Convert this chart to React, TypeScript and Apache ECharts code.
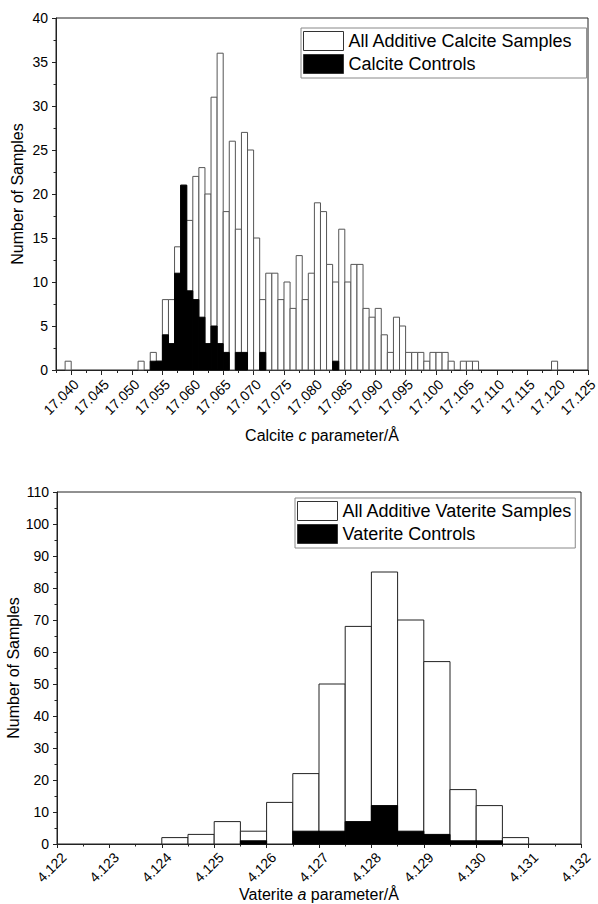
import React, { useEffect, useRef } from "react";
import * as echarts from "echarts";

// ---------- Data ----------
// Calcite c parameter histogram: bin left edges (Å), bin width 0.001 Å
const calciteBinWidth = 0.001;
const calciteBinStart = [
  17.039, 17.051, 17.053, 17.054, 17.055, 17.056, 17.057, 17.058, 17.059, 17.06,
  17.061, 17.062, 17.063, 17.064, 17.065, 17.066, 17.067, 17.068, 17.069, 17.07,
  17.071, 17.072, 17.073, 17.074, 17.075, 17.076, 17.077, 17.078, 17.079, 17.08,
  17.081, 17.082, 17.083, 17.084, 17.085, 17.086, 17.087, 17.088, 17.089, 17.09,
  17.091, 17.092, 17.093, 17.094, 17.095, 17.096, 17.097, 17.098, 17.099, 17.1,
  17.101, 17.102, 17.104, 17.105, 17.106, 17.119,
];
const calciteAllCounts = [
  1, 1, 2, 1, 8, 8, 14, 21, 17, 22,
  23, 20, 31, 36, 18, 26, 16, 27, 25, 15,
  8, 11, 11, 8, 10, 7, 13, 8, 11, 19,
  18, 12, 10, 16, 10, 12, 12, 7, 6, 7,
  4, 2, 6, 5, 2, 2, 2, 1, 2, 2,
  2, 1, 1, 1, 1, 1,
];
const calciteControlCounts = [
  0, 0, 1, 1, 4, 3, 11, 21, 9, 8,
  6, 3, 5, 3, 2, 0, 2, 2, 0, 0,
  2, 0, 0, 0, 0, 0, 0, 0, 0, 0,
  0, 0, 1, 0, 0, 0, 0, 0, 0, 0,
  0, 0, 0, 0, 0, 0, 0, 0, 0, 0,
  0, 0, 0, 0, 0, 0,
];
const calciteMajorTicks = [
  17.04, 17.045, 17.05, 17.055, 17.06, 17.065, 17.07, 17.075, 17.08,
  17.085, 17.09, 17.095, 17.1, 17.105, 17.11, 17.115, 17.12, 17.125,
];

// Vaterite a parameter histogram: bin left edges (Å), bin width 0.0005 Å
const vateriteBinWidth = 0.0005;
const vateriteBinStart = [
  4.124, 4.1245, 4.125, 4.1255, 4.126, 4.1265, 4.127, 4.1275, 4.128, 4.1285,
  4.129, 4.1295, 4.13, 4.1305,
];
const vateriteAllCounts = [2, 3, 7, 4, 13, 22, 50, 68, 85, 70, 57, 17, 12, 2];
const vateriteControlCounts = [0, 0, 0, 1, 0, 4, 4, 7, 12, 4, 3, 1, 1, 0];

const calciteNames = ["All Additive Calcite Samples", "Calcite Controls"];
const vateriteNames = ["All Additive Vaterite Samples", "Vaterite Controls"];

// ---------- Styling ----------
const FONT = '"Liberation Sans", Arial, Helvetica, sans-serif';
const AXIS_COLOR = "#222";
const TEXT_COLOR = "#000";

function histSeries(
  name: string,
  starts: number[],
  counts: number[],
  width: number,
  axisIndex: number,
  fill: string,
  stroke: string,
  z: number
) {
  const data = starts
    .map((s, i) => [s, s + width, counts[i]])
    .filter((d) => d[2] > 0);
  return {
    type: "custom",
    name,
    xAxisIndex: axisIndex === 0 ? 0 : 2,
    yAxisIndex: axisIndex,
    data,
    z,
    silent: true,
    encode: { x: [0, 1], y: 2 },
    itemStyle: { color: fill },
    renderItem: (params: any, api: any) => {
      const x0 = api.value(0);
      const x1 = api.value(1);
      const y = api.value(2);
      const p0 = api.coord([x0, y]);
      const p1 = api.coord([x1, 0]);
      return {
        type: "rect",
        shape: {
          x: p0[0],
          y: p0[1],
          width: p1[0] - p0[0],
          height: p1[1] - p0[1],
        },
        style: { fill, stroke, lineWidth: 1 },
      };
    },
  };
}

function legendFor(names: string[], left: number, top: number, padRight: number) {
  return {
    show: true,
    orient: "vertical",
    left,
    top,
    padding: [3, padRight, 4, 2],
    itemGap: 3,
    itemWidth: 40,
    itemHeight: 19,
    borderColor: "#888",
    borderWidth: 1,
    selectedMode: false,
    textStyle: { fontSize: 18, fontFamily: FONT, color: TEXT_COLOR, lineHeight: 19 },
    data: [
      {
        name: names[0],
        icon: "rect",
        itemStyle: { color: "#fff", borderColor: "#333", borderWidth: 1 },
      },
      {
        name: names[1],
        icon: "rect",
        itemStyle: { color: "#000", borderColor: "#333", borderWidth: 1 },
      },
    ],
  };
}

const axisLine = { show: true, onZero: false, lineStyle: { color: AXIS_COLOR, width: 1 } };
const labelBase = { fontSize: 14, fontFamily: FONT, color: TEXT_COLOR };

function isMultipleOf(v: number, step: number) {
  const r = v / step;
  return Math.abs(r - Math.round(r)) < 1e-6;
}

export default function App() {
  const ref = useRef<HTMLDivElement>(null);

  useEffect(() => {
    if (!ref.current) return;
    const chart = echarts.init(ref.current, null, { renderer: "svg" });
    const option: any = {
      animation: false,
      backgroundColor: "#fff",
      grid: [
        {
          left: 56, top: 18, width: 532, height: 352,
          show: true, borderColor: AXIS_COLOR, borderWidth: 1,
          backgroundColor: "transparent", outerBoundsMode: "none",
        },
        {
          left: 57, top: 492, width: 524, height: 352,
          show: true, borderColor: AXIS_COLOR, borderWidth: 1,
          backgroundColor: "transparent", outerBoundsMode: "none",
        },
      ],
      legend: [
        legendFor(calciteNames, 301, 28, 14),
        legendFor(vateriteNames, 295, 498, 3),
      ],
      xAxis: [
        {
          type: "value",
          gridIndex: 0,
          min: 17.0375,
          max: 17.125,
          interval: 0.0025,
          axisLine,
          axisTick: { show: true, length: 3, lineStyle: { color: AXIS_COLOR } },
          axisLabel: { show: false },
          splitLine: { show: false },
          name: "Calcite {i|c} parameter/Å",
          nameLocation: "middle",
          nameGap: 57,
          nameMoveOverlap: false,
          nameTextStyle: {
            fontSize: 16, fontFamily: FONT, color: TEXT_COLOR,
            rich: { i: { fontStyle: "italic", fontSize: 16, fontFamily: FONT, color: TEXT_COLOR } },
          },
        },
        {
          type: "value",
          gridIndex: 0,
          position: "bottom",
          min: 17.0375,
          max: 17.125,
          axisLine: { show: false, onZero: false },
          axisTick: {
            show: true, length: 5, customValues: calciteMajorTicks,
            lineStyle: { color: AXIS_COLOR },
          },
          axisLabel: {
            ...labelBase,
            customValues: calciteMajorTicks,
            rotate: 45,
            align: "right",
            verticalAlign: "top",
            margin: 7,
            formatter: (v: number) => (isMultipleOf(v, 0.005) ? v.toFixed(3) : ""),
          },
          splitLine: { show: false },
        },
        {
          type: "value",
          gridIndex: 1,
          min: 4.122,
          max: 4.132,
          interval: 0.001,
          axisLine,
          axisTick: { show: true, length: 4, lineStyle: { color: AXIS_COLOR } },
          minorTick: { show: true, splitNumber: 2, length: 2.5, lineStyle: { color: AXIS_COLOR } },
          axisLabel: {
            ...labelBase,
            rotate: 45,
            align: "right",
            verticalAlign: "top",
            margin: 4,
            padding: [3, 0, 0, 0],
            formatter: (v: number) => v.toFixed(3),
          },
          splitLine: { show: false },
          name: "Vaterite {i|a} parameter/Å",
          nameLocation: "middle",
          nameGap: 42,
          nameMoveOverlap: false,
          nameTextStyle: {
            fontSize: 16, fontFamily: FONT, color: TEXT_COLOR,
            rich: { i: { fontStyle: "italic", fontSize: 16, fontFamily: FONT, color: TEXT_COLOR } },
          },
        },
      ],
      yAxis: [
        {
          type: "value",
          gridIndex: 0,
          min: 0,
          max: 40,
          interval: 5,
          axisLine,
          axisTick: { show: true, length: 4, lineStyle: { color: AXIS_COLOR } },
          minorTick: { show: true, splitNumber: 2, length: 2.5, lineStyle: { color: AXIS_COLOR } },
          axisLabel: { ...labelBase, margin: 8 },
          splitLine: { show: false },
          name: "Number of Samples",
          nameLocation: "middle",
          nameGap: 31,
          nameMoveOverlap: false,
          nameTextStyle: { fontSize: 16, fontFamily: FONT, color: TEXT_COLOR },
        },
        {
          type: "value",
          gridIndex: 1,
          min: 0,
          max: 110,
          interval: 10,
          axisLine,
          axisTick: { show: true, length: 4, lineStyle: { color: AXIS_COLOR } },
          minorTick: { show: true, splitNumber: 2, length: 2.5, lineStyle: { color: AXIS_COLOR } },
          axisLabel: { ...labelBase, margin: 8 },
          splitLine: { show: false },
          name: "Number of Samples",
          nameLocation: "middle",
          nameGap: 36,
          nameMoveOverlap: false,
          nameTextStyle: { fontSize: 16, fontFamily: FONT, color: TEXT_COLOR },
        },
      ],
      series: [
        histSeries(calciteNames[0], calciteBinStart, calciteAllCounts, calciteBinWidth, 0, "#fff", "#555", 2),
        histSeries(calciteNames[1], calciteBinStart, calciteControlCounts, calciteBinWidth, 0, "#000", "#000", 3),
        histSeries(vateriteNames[0], vateriteBinStart, vateriteAllCounts, vateriteBinWidth, 1, "#fff", "#222", 2),
        histSeries(vateriteNames[1], vateriteBinStart, vateriteControlCounts, vateriteBinWidth, 1, "#000", "#000", 3),
      ],
    };
    chart.setOption(option);
    return () => chart.dispose();
  }, []);

  return (
    <div
      ref={ref}
      style={{ position: "fixed", left: 0, top: 0, width: 598, height: 904, background: "#fff" }}
    />
  );
}
